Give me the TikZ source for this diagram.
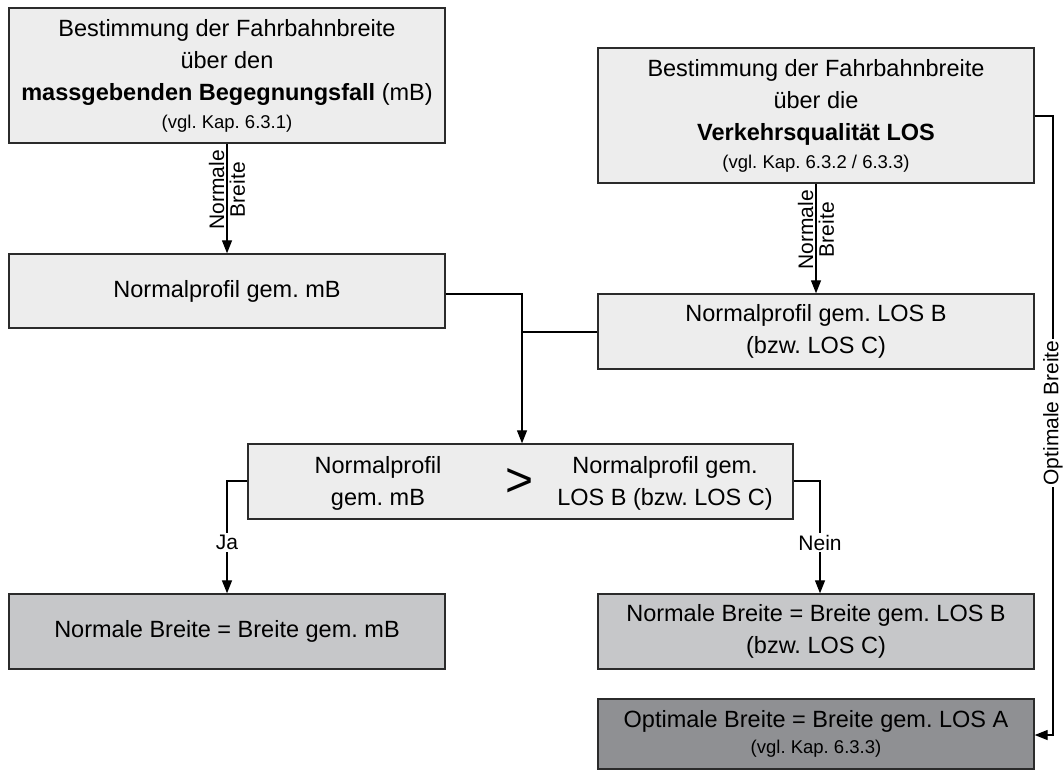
\documentclass[tikz,border=0pt]{standalone}
\usepackage{fontspec}
\setmainfont{Liberation Sans}
\usetikzlibrary{arrows.meta}
\definecolor{boxlight}{HTML}{EDEDED}
\definecolor{boxmid}{HTML}{C6C7C9}
\definecolor{boxdark}{HTML}{8F9093}
\definecolor{edgecol}{HTML}{2B2B2B}
\frenchspacing
\begin{document}
\begin{tikzpicture}[x=1pt,y=-1pt,
  box/.style={draw=edgecol, line width=1.4pt, align=center, inner sep=0pt,
    font=\fontsize{23.5}{32}\selectfont, text=black},
  plain/.style={align=center, inner sep=0pt, font=\fontsize{23.5}{32}\selectfont},
  conn/.style={line width=1.3pt, draw=black},
  arr/.style={conn, -{Triangle[length=13pt,width=10pt]}},
  lbl/.style={font=\fontsize{21}{23}\selectfont, inner sep=2pt}]
\useasboundingbox (0,0) rectangle (1064,769);
\newcommand{\smalltxt}{\fontsize{18.5}{24}\selectfont}

% boxes
\node[box, fill=boxlight, minimum width=436pt, minimum height=135pt] (b1) at (227,75.5)
  {Bestimmung der Fahrbahnbreite\\über den\\\textbf{massgebenden Begegnungsfall} (mB)\\[-4pt]{\smalltxt (vgl. Kap. 6.3.1)}};
\node[box, fill=boxlight, minimum width=436pt, minimum height=135pt] (b2) at (816,115.5)
  {Bestimmung der Fahrbahnbreite\\über die\\\textbf{Verkehrsqualität LOS}\\[-4pt]{\smalltxt (vgl. Kap. 6.3.2 / 6.3.3)}};
\node[box, fill=boxlight, minimum width=436pt, minimum height=74pt] (b3) at (227,291)
  {Normalprofil gem. mB};
\node[box, fill=boxlight, minimum width=436pt, minimum height=75pt] (b4) at (816,331.5)
  {Normalprofil gem. LOS B\\(bzw. LOS C)};
\node[box, fill=boxlight, minimum width=545pt, minimum height=75pt] (b5) at (520.5,481.5) {};
\node[plain] (b5l) at (378,483) {Normalprofil\\gem. mB};
\node[plain, font=\fontsize{48}{50}\selectfont] (b5g) at (520,482) {>};
\node[plain] (b5r) at (665,483) {Normalprofil gem.\\LOS B (bzw. LOS C)};
\node[box, fill=boxmid, minimum width=436pt, minimum height=75pt] (b6) at (227,631.5)
  {Normale Breite = Breite gem. mB};
\node[box, fill=boxmid, minimum width=436pt, minimum height=75pt] (b7) at (816,631.5)
  {Normale Breite = Breite gem. LOS B\\(bzw. LOS C)};
\node[box, fill=boxdark, minimum width=436pt, minimum height=70pt] (b8) at (816,734)
  {Optimale Breite = Breite gem. LOS A\\[-6pt]{\smalltxt (vgl. Kap. 6.3.3)}};

% connectors
\draw[arr] (b1.south) -- node[lbl, pos=0.42, rotate=90, anchor=south] {Normale}
  node[lbl, pos=0.42, rotate=90, anchor=north] {Breite} (b3.north);
\draw[arr] (b2.south) -- node[lbl, pos=0.42, rotate=90, anchor=south] {Normale}
  node[lbl, pos=0.42, rotate=90, anchor=north] {Breite} (b4.north);

\coordinate (m1) at (522,294);
\coordinate (m2) at (522,332);
\draw[conn] (b3.east |- m1) -- (m1) -- (m2);
\draw[conn] (b4.west |- m2) -- (m2);
\draw[arr] (m2) -- (m2 |- b5.north);

\coordinate (ja) at (227,481);
\draw[arr] (b5.west |- ja) -- (ja) -- node[lbl, pos=0.55, fill=white] {Ja} (ja |- b6.north);
\coordinate (nein) at (820,481);
\draw[arr] (b5.east |- nein) -- (nein) -- node[lbl, pos=0.55, fill=white] {Nein} (nein |- b7.north);

\coordinate (o1) at (1053,116);
\coordinate (o2) at (1053,735);
\draw[arr] (b2.east |- o1) -- (o1) -- node[lbl, pos=0.48, rotate=90, fill=white] {Optimale Breite} (o2) -- (b8.east |- o2);
\end{tikzpicture}
\end{document}
